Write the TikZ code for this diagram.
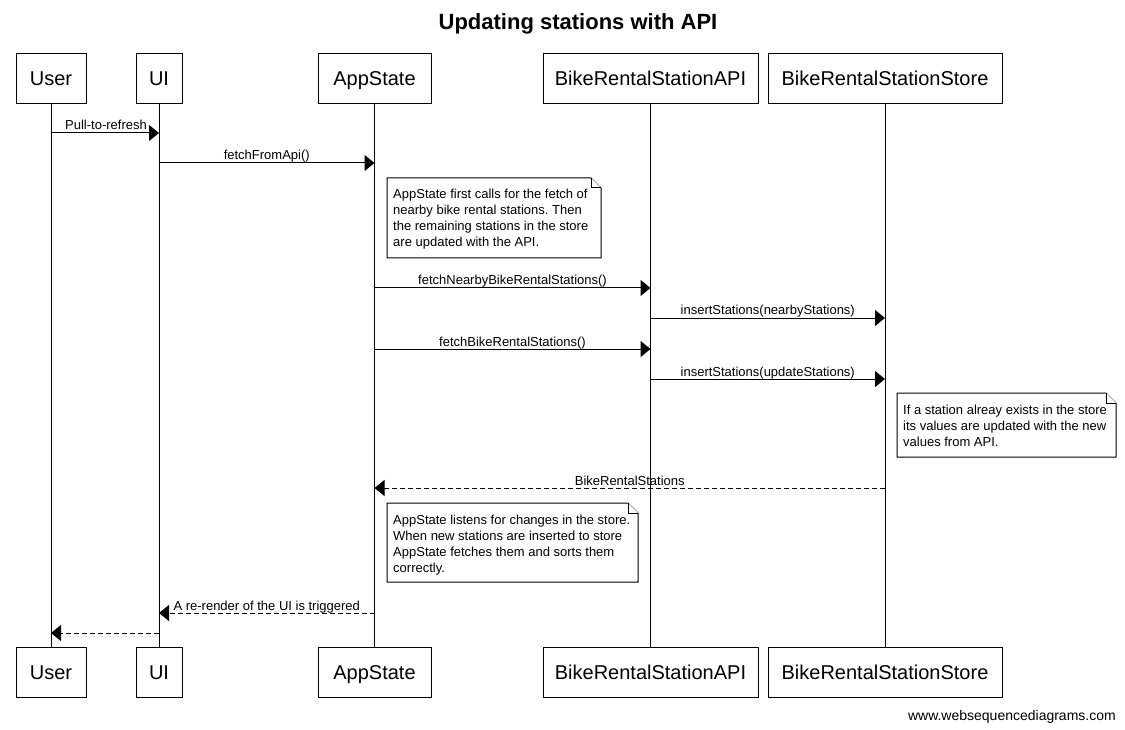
\documentclass[tikz,border=0pt]{standalone}
\usepackage{fontspec}
\setmainfont{Liberation Sans}
\usetikzlibrary{arrows.meta}
\frenchspacing
\newcommand\mynotebox[4]{%
  \draw[notebox] (#1,#2) -- ({#3-10},#2) -- (#3,{#2+10}) -- (#3,#4) -- (#1,#4) -- cycle;
  \draw[notebox] ({#3-10},#2) -- ({#3-10},{#2+10}) -- (#3,{#2+10});}
\begin{document}
\begin{tikzpicture}[x=1pt,y=-1pt,
  part/.style={draw, line width=1pt, inner sep=0pt, minimum height=50pt,
    text height=18pt, text depth=4pt, font=\fontsize{20}{24}\selectfont},
  life/.style={line width=1pt},
  msg/.style={line width=1pt, -{Triangle[length=10pt,width=16pt]}},
  ret/.style={msg, dash pattern=on 5pt off 3pt},
  lbl/.style={anchor=base, inner sep=0pt, font=\fontsize{13}{16}\selectfont},
  notebox/.style={line width=1pt, fill=white},
  notetext/.style={anchor=north west, inner sep=0pt, align=left,
    font=\fontsize{13}{16}\selectfont},
]
\fill[white] (0,0) rectangle (1125,730);
\useasboundingbox (0,0) rectangle (1125,730);

\node (title) [anchor=base, inner sep=0pt, font=\bfseries\fontsize{22}{26}\selectfont] at (578,30) {Updating stations with API};

% participants (top)
\node[part, minimum width=70pt]  (User) at (51,78.5)    {User};
\node[part, minimum width=46pt]  (UI)   at (159,78.5)   {UI};
\node[part, minimum width=113pt] (AS)   at (374.5,78.5) {AppState};
\node[part, minimum width=215pt] (API)  at (650.5,78.5) {BikeRentalStationAPI};
\node[part, minimum width=234pt] (ST)   at (885,78.5)   {BikeRentalStationStore};
% participants (bottom)
\node[part, minimum width=70pt]  (Userb) at (51,672)    {User};
\node[part, minimum width=46pt]  (UIb)   at (159,672)   {UI};
\node[part, minimum width=113pt] (ASb)   at (374.5,672) {AppState};
\node[part, minimum width=215pt] (APIb)  at (650.5,672) {BikeRentalStationAPI};
\node[part, minimum width=234pt] (STb)   at (885,672)   {BikeRentalStationStore};

% lifelines
\draw[life] (User.south) -- (Userb.north);
\draw[life] (UI.south) -- (UIb.north);
\draw[life] (AS.south) -- (ASb.north);
\draw[life] (API.south) -- (APIb.north);
\draw[life] (ST.south) -- (STb.north);

% message end points
\coordinate (u1)  at (User |- 0,133);
\coordinate (ui1) at (UI |- 0,133);
\coordinate (ui2) at (UI |- 0,163);
\coordinate (as2) at (AS |- 0,163);
\coordinate (as3) at (AS |- 0,288);
\coordinate (ap3) at (API |- 0,288);
\coordinate (ap4) at (API |- 0,318);
\coordinate (st4) at (ST |- 0,318);
\coordinate (as5) at (AS |- 0,349);
\coordinate (ap5) at (API |- 0,349);
\coordinate (ap6) at (API |- 0,379);
\coordinate (st6) at (ST |- 0,379);
\coordinate (st7) at (ST |- 0,488);
\coordinate (as7) at (AS |- 0,488);
\coordinate (as8) at (AS |- 0,613);
\coordinate (ui8) at (UI |- 0,613);
\coordinate (ui9) at (UI |- 0,633);
\coordinate (u9)  at (User |- 0,633);

% messages
\draw[msg] (u1) -- (ui1) node[midway, lbl, yshift=3pt, xshift=1pt] {Pull-to-refresh};
\draw[msg] (ui2) -- (as2) node[midway, lbl, yshift=3pt] {fetchFromApi()};

\mynotebox{387}{178}{601}{258}
\node[notetext] (n1) at (393,188) {\rule{0pt}{10pt}AppState first calls for the fetch of\\nearby bike rental stations. Then\\the remaining stations in the store\\are updated with the API.};

\draw[msg] (as3) -- (ap3) node[midway, lbl, yshift=3pt] {fetchNearbyBikeRentalStations()};
\draw[msg] (ap4) -- (st4) node[midway, lbl, yshift=3pt] {insertStations(nearbyStations)};
\draw[msg] (as5) -- (ap5) node[midway, lbl, yshift=3pt] {fetchBikeRentalStations()};
\draw[msg] (ap6) -- (st6) node[midway, lbl, yshift=3pt] {insertStations(updateStations)};

\mynotebox{897}{393}{1116}{457}
\node[notetext] (n2) at (903,404) {\rule{0pt}{10pt}If a station alreay exists in the store\\its values are updated with the new\\values from API.};

\draw[ret] (st7) -- (as7) node[midway, lbl, yshift=3pt] {BikeRentalStations};

\mynotebox{387}{503}{638}{582}
\node[notetext] (n3) at (393,514) {\rule{0pt}{10pt}AppState listens for changes in the store.\\When new stations are inserted to store\\AppState fetches them and sorts them\\correctly.};

\draw[ret] (as8) -- (ui8) node[midway, lbl, yshift=3pt] {A re-render of the UI is triggered};
\draw[ret] (ui9) -- (u9);

\node (footer) [anchor=base east, inner sep=0pt, font=\fontsize{14}{16}\selectfont] at (1116,720) {www.websequencediagrams.com};
\end{tikzpicture}
\end{document}
